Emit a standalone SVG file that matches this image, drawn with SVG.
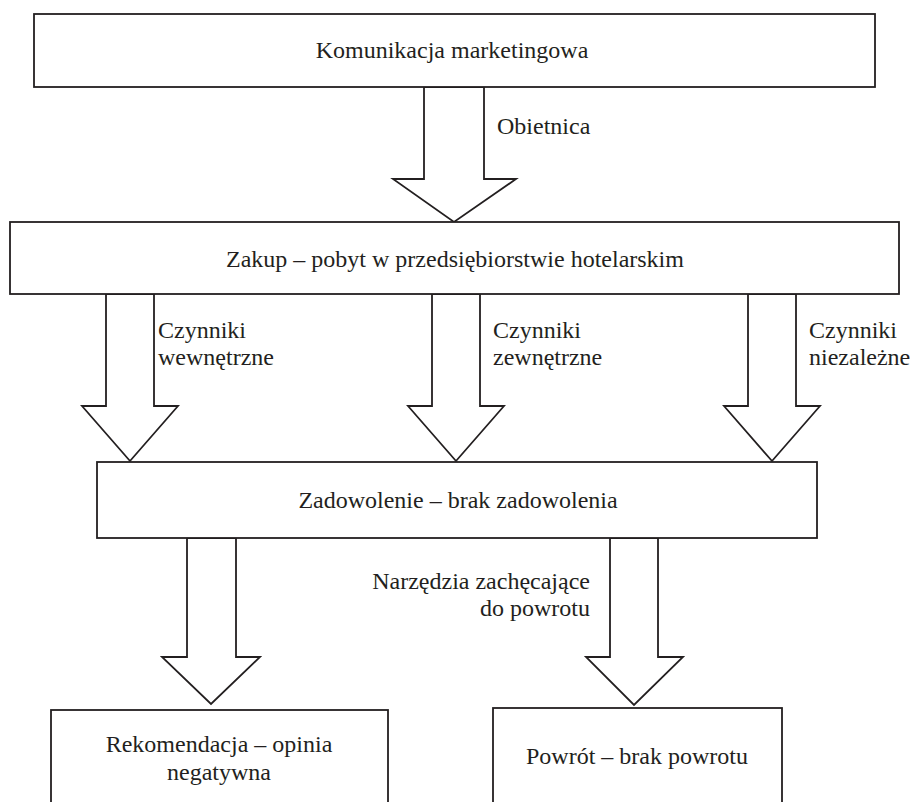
<svg xmlns="http://www.w3.org/2000/svg" width="913" height="802" viewBox="0 0 913 802" font-family="Liberation Serif, Times New Roman, serif">
<style>
.box{fill:#fff;stroke:#231f20;stroke-width:1.8}
.arr{fill:#fff;stroke:#231f20;stroke-width:1.8;stroke-linejoin:miter}
.t{font-family:'Liberation Serif','Times New Roman',serif;font-size:24px;fill:#231f20}
.c{text-anchor:middle}
.e{text-anchor:end}
</style>
<rect width="913" height="802" fill="#fff"/>
<g id="connectors">
<polygon class="arr" points="424,87 484,87 484,179 516,179 454,222 393,179 424,179"/>
<polygon class="arr" points="106,294 154,294 154,406 178,406 130,461 82,406 106,406"/>
<polygon class="arr" points="432,294 480,294 480,406 504,406 456,461 408,406 432,406"/>
<polygon class="arr" points="748,294 796,294 796,406 820,406 772,461 724,406 748,406"/>
<polygon class="arr" points="187,538 236,538 236,657 260,657 211,704 162,657 187,657"/>
<polygon class="arr" points="610,538 658,538 658,657 683,657 634,705 586,657 610,657"/>
<text class="t" x="497" y="134">Obietnica</text>
<text class="t" x="158" y="338">Czynniki</text>
<text class="t" x="158" y="365">wewnętrzne</text>
<text class="t" x="493" y="338">Czynniki</text>
<text class="t" x="493" y="365">zewnętrzne</text>
<text class="t" x="809" y="338">Czynniki</text>
<text class="t" x="809" y="365">niezależne</text>
<text class="t e" x="590" y="589">Narzędzia zachęcające</text>
<text class="t e" x="590" y="616">do powrotu</text>
</g>
<g id="n1">
<rect class="box" x="34" y="14" width="841" height="73"/>
<text class="t c" x="452" y="58">Komunikacja marketingowa</text>
</g>
<g id="n2">
<rect class="box" x="10" y="222" width="889" height="72"/>
<text class="t c" x="455" y="267">Zakup – pobyt w przedsiębiorstwie hotelarskim</text>
</g>
<g id="n3">
<rect class="box" x="97" y="462" width="720" height="76"/>
<text class="t c" x="458" y="508">Zadowolenie – brak zadowolenia</text>
</g>
<g id="n4">
<rect class="box" x="51" y="710" width="337" height="100"/>
<text class="t c" x="219" y="752">Rekomendacja – opinia</text>
<text class="t c" x="219" y="780">negatywna</text>
</g>
<g id="n5">
<rect class="box" x="493" y="708" width="289" height="100"/>
<text class="t c" x="637" y="764">Powrót – brak powrotu</text>
</g>
</svg>
